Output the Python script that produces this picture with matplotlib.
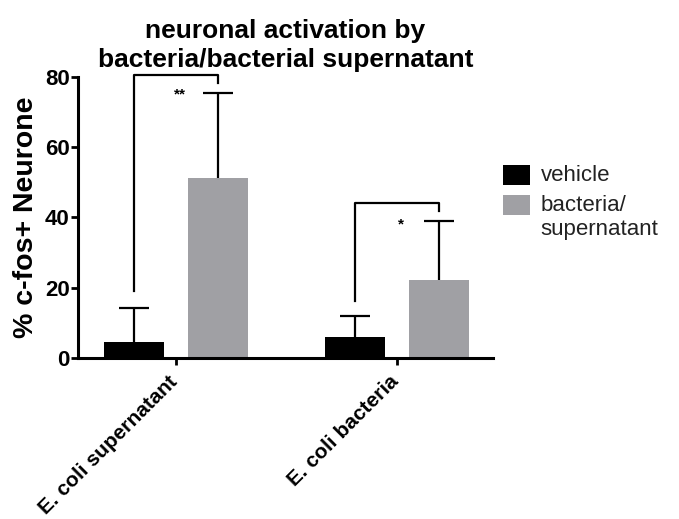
import numpy as np
import matplotlib.pyplot as plt
from matplotlib.transforms import ScaledTranslation

plt.rcParams["font.family"] = ["Liberation Sans", "DejaVu Sans"]

# values
groups = ["E. coli supernatant", "E. coli bacteria"]
series = ["vehicle", "bacteria/\nsupernatant"]
means = {"vehicle": [4.6, 6.1], "bacteria/\nsupernatant": [51.2, 22.2]}
upper = {"vehicle": [14.3, 12.0], "bacteria/\nsupernatant": [75.4, 39.0]}
colors = {"vehicle": "#000000", "bacteria/\nsupernatant": "#a0a0a4"}
# significance brackets: (group, top, left leg end, right leg end, stars, star y)
brackets = [(0, 80.4, 19.1, 78.1, "**", 75.0), (1, 44.2, 16.3, 41.7, "*", 38.0)]

fig = plt.figure(figsize=(6.79, 5.19), dpi=100)
ax = fig.add_axes([0.115, 0.31, 0.611, 0.542])

x = np.arange(len(groups))
off, w, cap = 0.19, 0.2715, 0.068
for k, s in enumerate(series):
    xs = x + (2 * k - 1) * off
    ax.bar(xs, means[s], width=w, color=colors[s], label=s, zorder=2)
    # one-sided (upper) error bars
    ax.vlines(xs, means[s], upper[s], color="black", lw=1.6, zorder=3)
    ax.hlines(upper[s], xs - cap, xs + cap, color="black", lw=1.6, zorder=3)

for g, top, lft, rgt, stars, sy in brackets:
    x0, x1 = g - off, g + off
    ax.plot([x0, x0, x1, x1], [lft, top, top, rgt], color="black", lw=1.6,
            clip_on=False, zorder=4)
    ax.text(g + 0.02, sy, stars, ha="center", va="center", fontsize=11,
            fontweight="bold")

ax.set_xlim(-0.443, 1.434)
ax.set_ylim(0, 80)
ax.set_yticks([0, 20, 40, 60, 80])
ax.set_xticks(x)
ax.tick_params(axis="y", labelsize=16, width=2, length=5, pad=1)
ax.tick_params(axis="x", width=2, length=5, pad=5)
ax.set_xticklabels(groups, rotation=45, ha="right", rotation_mode="anchor",
                   fontsize=15, fontweight="bold")
# nudge the slanted labels left so they end right under the tick
shift = ScaledTranslation(-8 / 100, 0, fig.dpi_scale_trans)
for lab in ax.get_xticklabels():
    lab.set_transform(lab.get_transform() + shift)
for lab in ax.get_yticklabels():
    lab.set_fontweight("bold")
for sp in ["top", "right"]:
    ax.spines[sp].set_visible(False)
for sp in ["left", "bottom"]:
    ax.spines[sp].set_linewidth(2.2)

ax.set_ylabel("% c-fos+ Neurone", fontsize=20.5, fontweight="bold", labelpad=4)
ax.set_title("neuronal activation by\nbacteria/bacterial supernatant",
             fontsize=19, fontweight="bold", pad=7, linespacing=1.28)

leg = ax.legend(loc="upper left", bbox_to_anchor=(0.976, 0.757), frameon=False,
                fontsize=16, handlelength=1.2, handleheight=1.0,
                labelspacing=0.4, handletextpad=0.5)
# put the square next to the first line of a two-line label
for col in leg._legend_handle_box.get_children():
    for row in col.get_children():
        row.align = "top"
for t in leg.get_texts():
    t.set_color("#222222")

fig.savefig("out.png", dpi=100)
